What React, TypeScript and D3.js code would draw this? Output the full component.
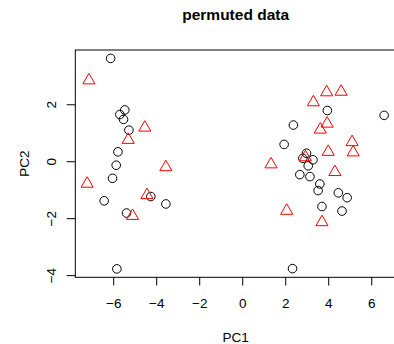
import { useEffect, useRef } from "react";
import * as d3 from "d3";

// group 1 (black circles)
const circleX = [
  -6.12, -5.46, -5.69, -5.52, -5.27, -5.78, -5.86, -6.03, -6.42, -4.25, -3.55, -5.38, -5.83,
  3.96, 6.6, 2.38, 1.95, 2.99, 2.82, 3.29, 3.07, 2.68, 3.15, 3.61, 3.53, 4.47, 4.88, 3.71, 4.64, 2.34,
];
const circleY = [
  3.61, 1.8, 1.64, 1.47, 1.09, 0.33, -0.14, -0.6, -1.39, -1.24, -1.5, -1.82, -3.78,
  1.78, 1.61, 1.27, 0.59, 0.28, 0.1, 0.05, -0.16, -0.47, -0.54, -0.8, -1.03, -1.11, -1.28, -1.59, -1.75, -3.77,
];

// group 2 (red triangles)
const triX = [
  -7.13, -4.53, -5.3, -3.55, -7.21, -4.43, -5.1,
  3.93, 4.6, 3.31, 3.95, 3.63, 5.11, 5.16, 4.0, 2.94, 1.34, 4.31, 2.07, 3.71,
];
const triY = [
  2.84, 1.18, 0.75, -0.21, -0.79, -1.19, -1.92,
  2.42, 2.44, 2.07, 1.32, 1.11, 0.67, 0.31, 0.33, 0.14, -0.11, -0.38, -1.74, -2.14,
];

const xTicks = [-6, -4, -2, 0, 2, 4, 6];
const yTicks = [-4, -2, 0, 2];

const title = "permuted data";
const xLabel = "PC1";
const yLabel = "PC2";

const width = 394;
const height = 344;
const plot = { left: 75.3, right: 396, top: 50, bottom: 277.3 };
const font = "'Liberation Sans', Arial, Helvetica, sans-serif";

// R-style 4% range expansion
const expand = (vals: number[]): [number, number] => {
  const [lo, hi] = d3.extent(vals) as [number, number];
  const pad = (hi - lo) * 0.04;
  return [lo - pad, hi + pad];
};

export default function App() {
  const svgRef = useRef<SVGSVGElement>(null);

  useEffect(() => {
    if (!svgRef.current) return;
    const svg = d3.select(svgRef.current);
    svg.selectAll("*").remove();

    const x = d3
      .scaleLinear()
      .domain(expand([...circleX, ...triX]))
      .range([plot.left, plot.right]);
    const y = d3
      .scaleLinear()
      .domain(expand([...circleY, ...triY]))
      .range([plot.bottom, plot.top]);

    svg
      .append("rect")
      .attr("width", width)
      .attr("height", height)
      .attr("fill", "white");

    // points
    const circles = circleX.map((v, i) => [v, circleY[i]]);
    svg
      .append("g")
      .selectAll("circle")
      .data(circles)
      .join("circle")
      .attr("cx", (d) => x(d[0]))
      .attr("cy", (d) => y(d[1]))
      .attr("r", 4.3)
      .attr("fill", "none")
      .attr("stroke", "black")
      .attr("stroke-width", 1);

    const tris = triX.map((v, i) => [v, triY[i]]);
    const R = 4.5;
    const r = 1.555 * R;
    const xc = 1.347 * R;
    const yc = 0.778 * R;
    svg
      .append("g")
      .selectAll("path")
      .data(tris)
      .join("path")
      .attr("d", (d) => {
        const cx = x(d[0]);
        const cy = y(d[1]);
        return `M${cx},${cy - r}L${cx + xc},${cy + yc}L${cx - xc},${cy + yc}Z`;
      })
      .attr("fill", "none")
      .attr("stroke", "#ff0000")
      .attr("stroke-width", 1);

    // box
    svg
      .append("rect")
      .attr("x", plot.left)
      .attr("y", plot.top)
      .attr("width", plot.right - plot.left)
      .attr("height", plot.bottom - plot.top)
      .attr("fill", "none")
      .attr("stroke", "black")
      .attr("stroke-width", 1);

    // x axis
    const gx = svg
      .append("g")
      .attr("transform", `translate(0,${plot.bottom})`)
      .call(d3.axisBottom(x).tickValues(xTicks).tickSize(8.2));
    gx.select(".domain").remove();
    gx.selectAll("line").attr("stroke", "black");
    gx.selectAll("text")
      .attr("y", 30.7)
      .attr("dy", null)
      .attr("fill", "black")
      .attr("font-size", 13.5)
      .attr("font-family", font);

    // y axis
    const gy = svg
      .append("g")
      .attr("transform", `translate(${plot.left},0)`)
      .call(d3.axisLeft(y).tickValues(yTicks).tickSize(8.6));
    gy.select(".domain").remove();
    gy.selectAll("line").attr("stroke", "black");
    gy.selectAll("text")
      .attr("x", 0)
      .attr("y", 0)
      .attr("dy", null)
      .attr("text-anchor", "middle")
      .attr("transform", "translate(-19.8,0) rotate(-90)")
      .attr("fill", "black")
      .attr("font-size", 13.5)
      .attr("font-family", font);

    const mid = (plot.left + plot.right) / 2;

    svg
      .append("text")
      .attr("x", mid)
      .attr("y", 20)
      .attr("text-anchor", "middle")
      .attr("font-family", font)
      .attr("font-weight", "bold")
      .attr("font-size", 15.5)
      .text(title);

    svg
      .append("text")
      .attr("x", mid)
      .attr("y", 341.5)
      .attr("text-anchor", "middle")
      .attr("font-family", font)
      .attr("font-size", 13.5)
      .text(xLabel);

    svg
      .append("text")
      .attr("transform", `translate(28.5,${(plot.top + plot.bottom) / 2}) rotate(-90)`)
      .attr("text-anchor", "middle")
      .attr("font-family", font)
      .attr("font-size", 13.5)
      .text(yLabel);
  }, []);

  return (
    <svg
      ref={svgRef}
      width={width}
      height={height}
      style={{ position: "absolute", left: 0, top: 0 }}
    />
  );
}
